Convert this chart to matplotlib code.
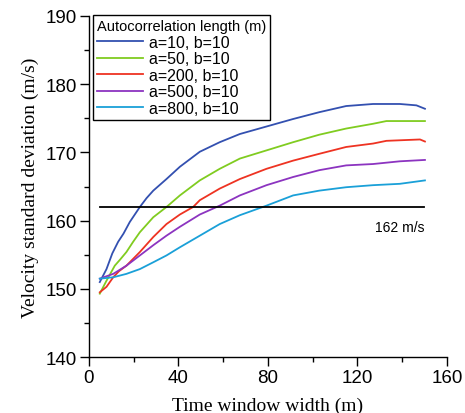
import matplotlib
matplotlib.use("Agg")

import matplotlib.pyplot as plt
from matplotlib.ticker import MultipleLocator

# values (time window width in m, std in m/s)
x_a10 = [4.9, 7.9, 10.5, 13.1, 15.5, 18.3, 22.8, 25.8, 28.8, 34.7, 40.7, 49.6, 58.5, 67.5, 79.4, 91.3, 103, 115, 127, 139, 146.4, 150.2]
y_a10 = [151.0, 152.9, 155.2, 156.9, 158.1, 159.8, 162.0, 163.3, 164.4, 166.1, 167.9, 170.1, 171.5, 172.7, 173.8, 174.9, 175.9, 176.8, 177.1, 177.1, 176.9, 176.4]

x_a50 = [4.9, 7.9, 11.6, 14.0, 16.8, 19.8, 22.8, 28.8, 34.7, 40.7, 49.6, 58.5, 67.5, 79.4, 91.3, 103, 115, 127, 133, 150.2]
y_a50 = [149.3, 151.2, 153.4, 154.3, 155.4, 156.9, 158.3, 160.5, 162.0, 163.7, 165.9, 167.6, 169.1, 170.3, 171.5, 172.6, 173.5, 174.2, 174.6, 174.6]

x_a200 = [4.9, 7.9, 10.9, 13.5, 16.8, 19.8, 22.8, 28.8, 34.7, 40.7, 46.6, 49.6, 58.5, 67.5, 79.4, 91.3, 103, 115, 127, 133, 148, 150.2]
y_a200 = [149.5, 150.3, 151.7, 152.6, 153.4, 154.4, 155.4, 157.6, 159.5, 160.9, 162.0, 163.0, 164.7, 166.1, 167.6, 168.8, 169.8, 170.8, 171.3, 171.7, 171.9, 171.6]

x_a500 = [4.9, 10.9, 16.8, 22.8, 28.8, 34.7, 40.7, 49.6, 58.5, 67.5, 79.4, 91.3, 103, 115, 127, 139, 150.2]
y_a500 = [151.5, 152.2, 153.4, 154.9, 156.4, 157.8, 159.1, 160.9, 162.2, 163.7, 165.2, 166.4, 167.4, 168.1, 168.3, 168.7, 168.9]

x_a800 = [4.9, 10.9, 16.8, 22.8, 28.8, 34.7, 40.7, 49.6, 58.5, 67.5, 79.4, 91.3, 103, 115, 127, 139, 150.2]
y_a800 = [151.5, 151.7, 152.2, 152.9, 153.9, 154.9, 156.1, 157.8, 159.5, 160.8, 162.2, 163.7, 164.4, 164.9, 165.2, 165.4, 165.9]

labels = ["a=10, b=10", "a=50, b=10", "a=200, b=10", "a=500, b=10", "a=800, b=10"]
colors = ["#3350b0", "#80cc20", "#ee3322", "#8c34c0", "#1aa0d8"]

ref_value = 162
ref_x = [5, 150]

sans = ["Liberation Sans", "DejaVu Sans"]
serif = ["Liberation Serif", "DejaVu Serif"]

fig = plt.figure(figsize=(4.65, 4.14), dpi=100)
ax = fig.add_axes([0.191, 0.135, 0.770, 0.824])

series = [(x_a10, y_a10), (x_a50, y_a50), (x_a200, y_a200), (x_a500, y_a500), (x_a800, y_a800)]
for (xs, ys), lab, col in zip(series, labels, colors):
    ax.plot(xs, ys, color=col, linewidth=1.3, label=lab)

ax.plot(ref_x, [ref_value, ref_value], color="black", linewidth=1.3)
ax.text(150, 159.1, "162 m/s", ha="right", va="center", fontsize=10, family=sans)

ax.set_xlim(0, 160)
ax.set_ylim(140, 190)
ax.xaxis.set_major_locator(MultipleLocator(40))
ax.xaxis.set_minor_locator(MultipleLocator(20))
ax.yaxis.set_major_locator(MultipleLocator(10))
ax.yaxis.set_minor_locator(MultipleLocator(5))

for s in ["top", "right"]:
    ax.spines[s].set_visible(False)
for s in ["left", "bottom"]:
    ax.spines[s].set_linewidth(1.0)

ax.tick_params(which="major", direction="out", length=6.5, width=1.0, labelsize=13.5, pad=2)
ax.tick_params(which="minor", direction="out", length=3.5, width=1.0)
for t in ax.get_xticklabels() + ax.get_yticklabels():
    t.set_family(sans)

ax.set_xlabel("Time window width (m)", fontsize=14, family=serif, labelpad=8)
ax.set_ylabel("Velocity standard deviation (m/s)", fontsize=14, family=serif, labelpad=5)

leg = ax.legend(loc="upper left", bbox_to_anchor=(0.011, 1.003), borderaxespad=0,
                title="Autocorrelation length (m)", fancybox=False, edgecolor="black",
                framealpha=1, handlelength=2.9, handletextpad=0.4, labelspacing=0.1,
                borderpad=0.25, prop={"family": sans, "size": 11.5})
leg.get_title().set_family(sans)
leg.get_title().set_fontsize(10.5)
leg.get_frame().set_linewidth(1.0)
leg._legend_box.align = "left"

fig.savefig("out.png", dpi=100)
